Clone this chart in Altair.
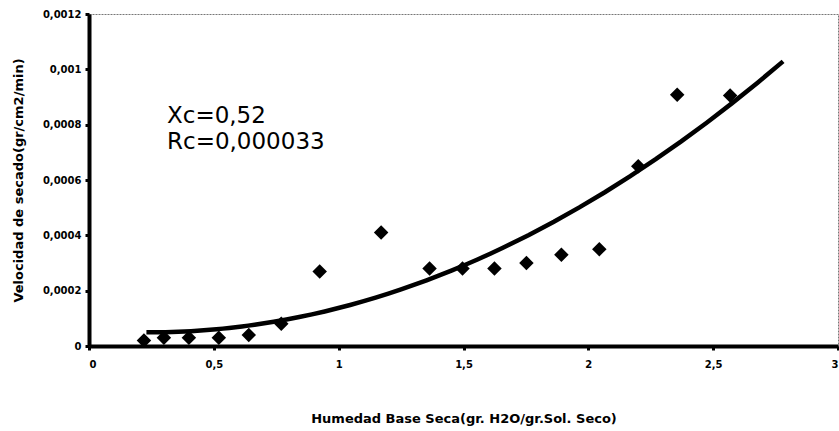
import altair as alt
import pandas as pd

# Moisture content (dry basis) and drying rate measurements
humedad = [0.22, 0.30, 0.40, 0.52, 0.64, 0.77, 0.924, 1.17, 1.364, 1.496,
           1.624, 1.752, 1.892, 2.044, 2.20, 2.356, 2.568]
velocidad = [0.000020, 0.000030, 0.000030, 0.000030, 0.000040, 0.000080,
             0.000269, 0.000410, 0.000280, 0.000280, 0.000280, 0.000300,
             0.000330, 0.000350, 0.000650, 0.000908, 0.000905]

# Trendline range (extended forward past the last measurement)
trend_extent = [0.23, 2.78]

# Annotation text
nota_xc = "Xc=0,52"
nota_rc = "Rc=0,000033"

df = pd.DataFrame({"x": humedad, "y": velocidad})

FONT = "DejaVu Sans"

x_scale = alt.Scale(domain=[0, 3], nice=False, zero=True)
y_scale = alt.Scale(domain=[0, 0.0012], nice=False)

x_axis = alt.Axis(
    title="Humedad Base Seca(gr. H2O/gr.Sol. Seco)",
    values=[0, 0.5, 1, 1.5, 2, 2.5, 3],
    labelExpr="replace(format(datum.value, '.1~f'), '.', ',')",
    labelPadding=9,
    titlePadding=43,
)
y_axis = alt.Axis(
    title="Velocidad de secado(gr/cm2/min)",
    values=[0, 0.0002, 0.0004, 0.0006, 0.0008, 0.001, 0.0012],
    labelExpr="replace(format(datum.value, '.4~f'), '.', ',')",
    labelPadding=4,
    titlePadding=17,
)

base = alt.Chart(df)

tendencia = base.transform_regression(
    "x", "y", method="poly", order=2, extent=trend_extent
).mark_line(color="black", strokeWidth=4.5).encode(
    x=alt.X("x:Q", scale=x_scale, axis=x_axis),
    y=alt.Y("y:Q", scale=y_scale, axis=y_axis),
)

puntos = base.mark_point(shape="diamond", filled=True, color="black",
                         opacity=1, size=210).encode(
    x=alt.X("x:Q", scale=x_scale, axis=x_axis),
    y=alt.Y("y:Q", scale=y_scale, axis=y_axis),
)


def nota(texto, ypix):
    return alt.Chart(pd.DataFrame({"t": [texto]})).mark_text(
        align="left", baseline="middle", font=FONT, fontSize=23, color="black"
    ).encode(x=alt.value(78), y=alt.value(ypix), text="t:N")


chart = alt.layer(
    tendencia, puntos, nota(nota_xc, 102), nota(nota_rc, 128)
).properties(
    width=749, height=332,
    background="white",
    autosize=alt.AutoSizeParams(type="none"),
    padding={"left": 89, "top": 14, "right": 1, "bottom": 85},
).configure_view(
    stroke="#777777", strokeDash=[2, 1], strokeWidth=1
).configure_axis(
    grid=False, domainColor="black", domainWidth=4,
    tickColor="black", tickWidth=3, tickSize=4,
    labelFont=FONT, labelFontWeight="bold", labelFontSize=10, labelColor="black",
    titleFont=FONT, titleFontWeight="bold", titleFontSize=13, titleColor="black",
)

chart.save("out.html", embed_options={"renderer": "svg", "actions": False})
